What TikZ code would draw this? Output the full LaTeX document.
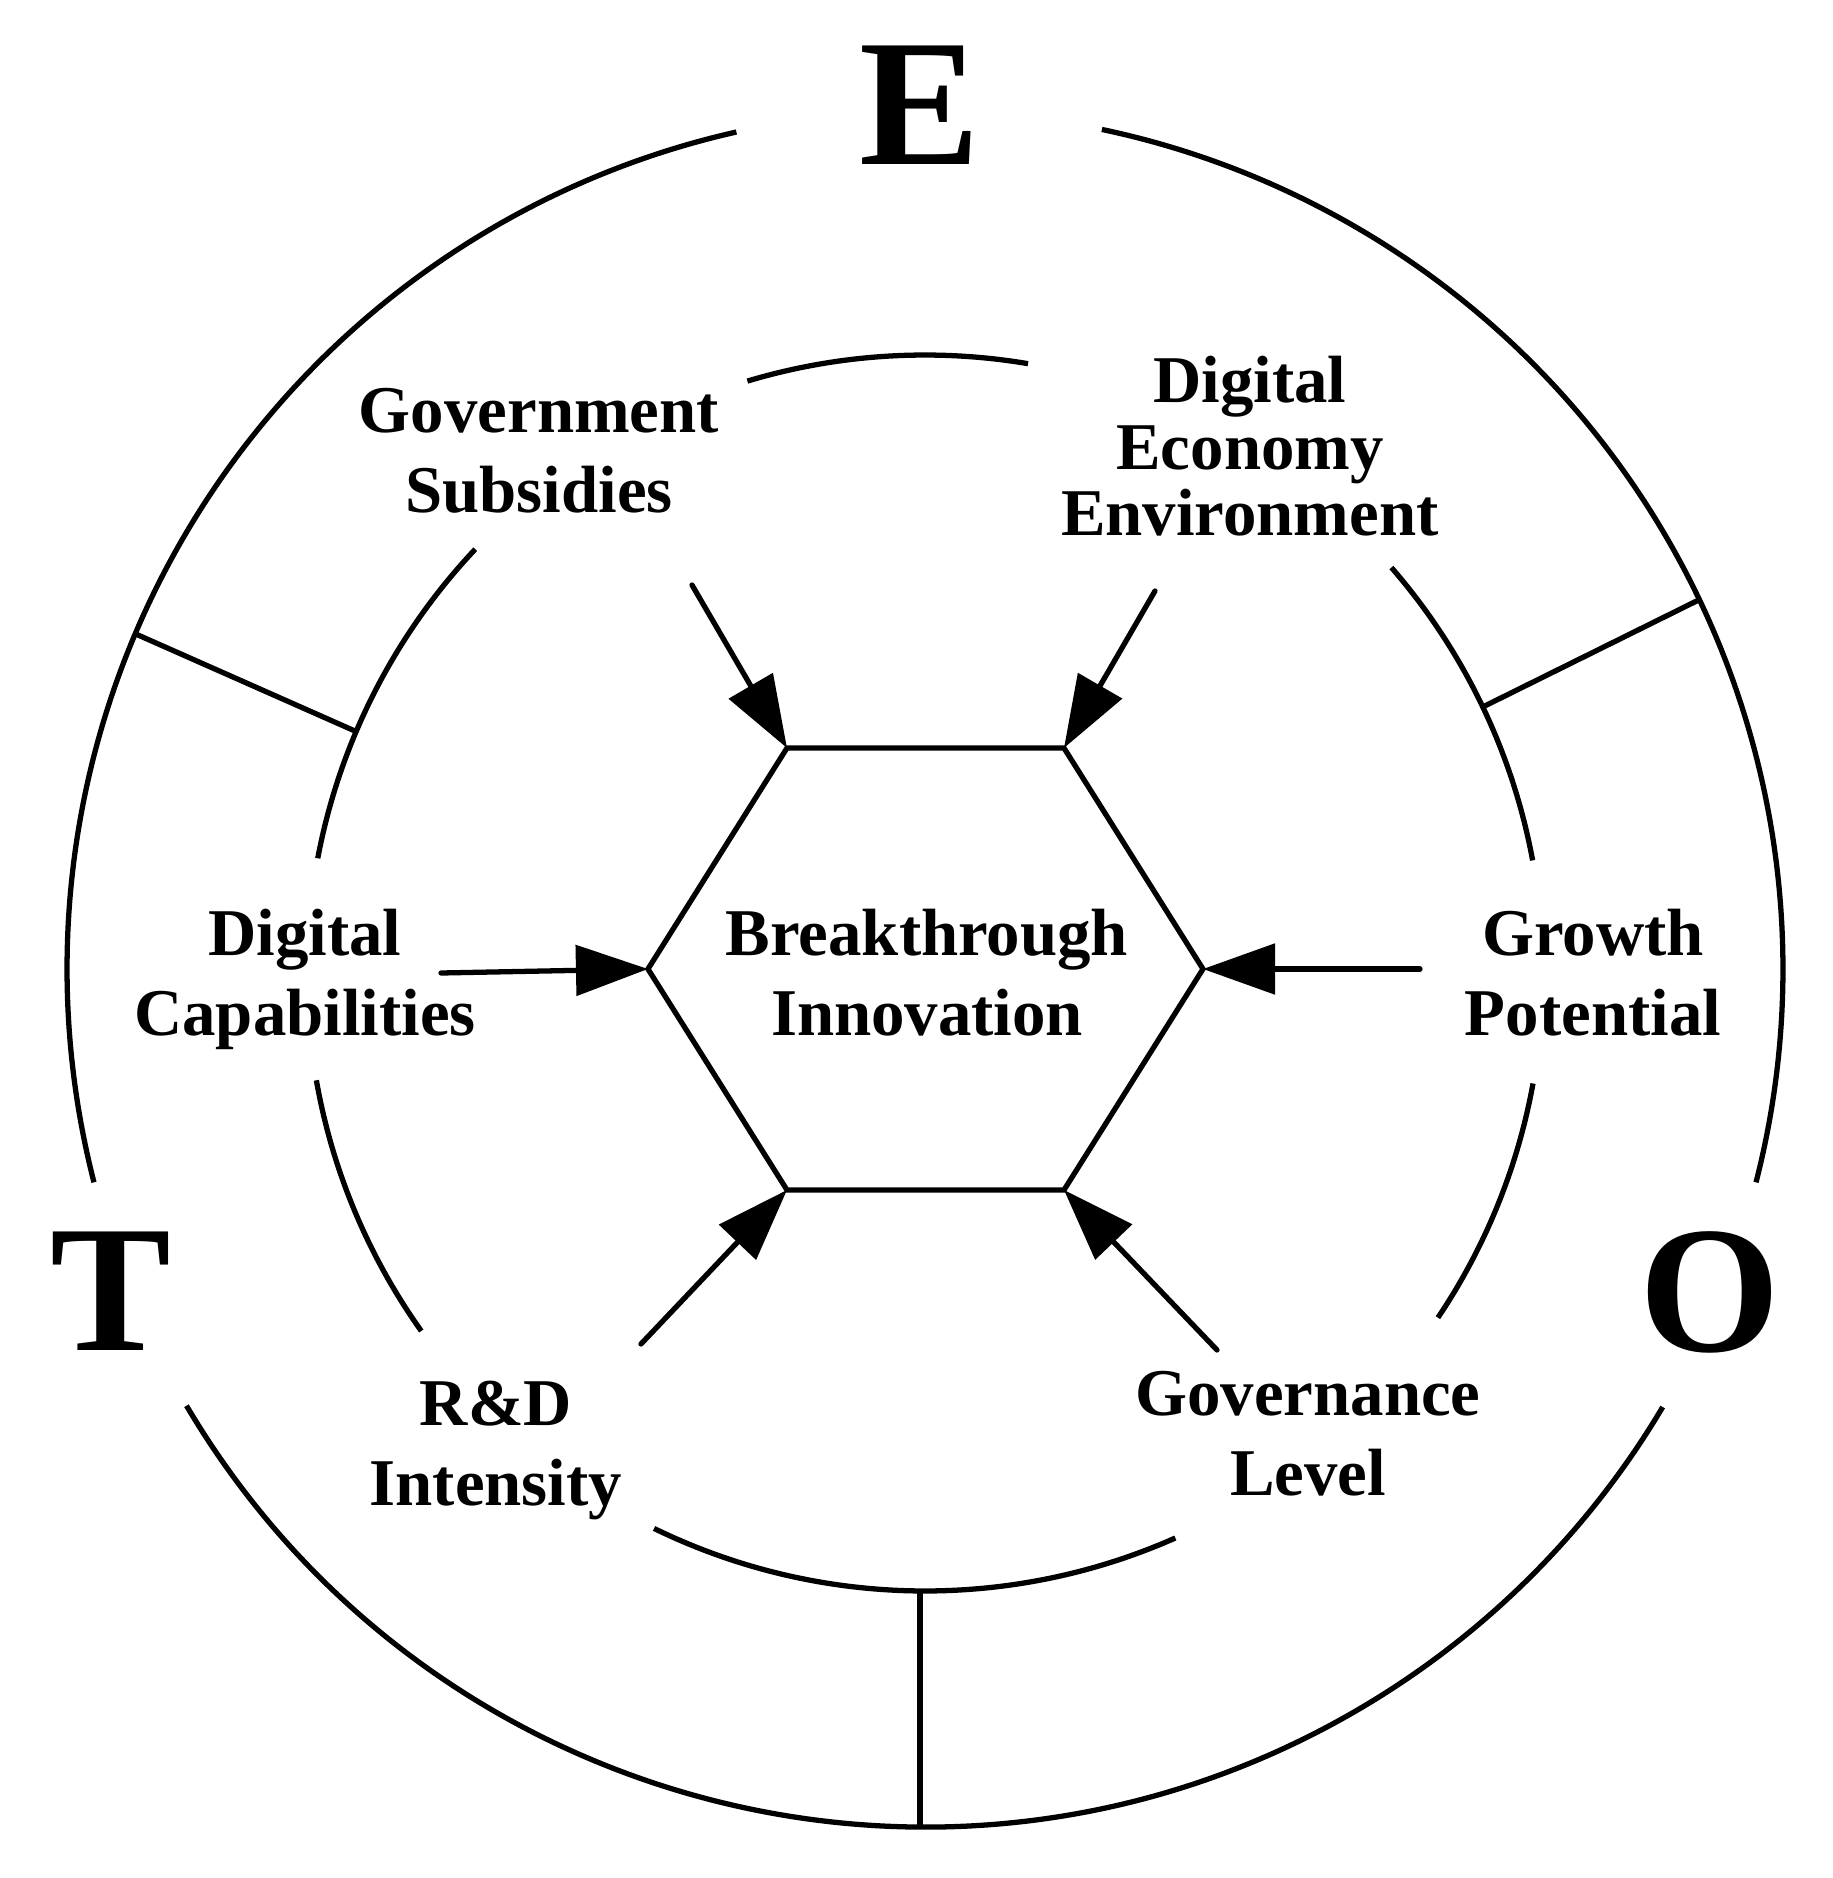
\documentclass[tikz,border=0pt]{standalone}
\usepackage{fontspec}
\setmainfont{Liberation Serif}
\usetikzlibrary{arrows.meta}

\begin{document}
\begin{tikzpicture}[x=0.01cm, y=0.01cm, line width=1.5pt,
		factor/.style={align=center, inner sep=0pt, text depth=0pt, font=\fontsize{19}{22.8}\selectfont\bfseries},
		letter/.style={inner sep=0pt, font=\fontsize{51.5}{52}\selectfont\bfseries},
		pointer/.style={line cap=round, -{Triangle[length=0.72cm,width=0.5cm]}}]

		\useasboundingbox (-925,-909) rectangle (908,969);

		% outer ring
		\draw (-14.4:858) arc[start angle=-14.4, end angle=78.1, radius=858];
		\draw (102.7:858) arc[start angle=102.7, end angle=194.4, radius=858];
		\draw (210.6:858) arc[start angle=210.6, end angle=329.3, radius=858];

		% inner ring
		\begin{scope}[shift={(0,-4)}]
			\draw (80.4:618) arc[start angle=80.4, end angle=106.7, radius=618];
			\draw (136.7:618) arc[start angle=136.7, end angle=169.3, radius=618];
			\draw (190:618) arc[start angle=190, end angle=215.4, radius=618];
			\draw (244:618) arc[start angle=244, end angle=293.9, radius=618];
			\draw (-33.9:618) arc[start angle=-33.9, end angle=-10.3, radius=618];
			\draw (10.5:618) arc[start angle=10.5, end angle=41, radius=618];

			\coordinate (s1) at (157:618);
			\coordinate (s2) at (25.5:618);
			\coordinate (s3) at (-5,-618);
		\end{scope}

		\coordinate (S1) at (157:858);
		\coordinate (S2) at (25.5:858);
		\coordinate (S3) at (-5,-858);

		\draw (s1) -- (S1);
		\draw (s2) -- (S2);
		\draw (s3) -- (S3);

		% hexagon
		\coordinate (h1) at (-138,221);
		\coordinate (h2) at (139,221);
		\coordinate (h3) at (278,0);
		\coordinate (h4) at (139,-221);
		\coordinate (h5) at (-138,-221);
		\coordinate (h6) at (-277,0);

		\draw (h1) -- (h2) -- (h3) -- (h4) -- (h5) -- (h6) -- cycle;

		\node[factor] (bi) at (2,-3) {Breakthrough\\Innovation};

		\node[factor] (gs) at (-386,519) {Government\\Subsidies};
		\node[factor, font=\fontsize{19}{18.9}\selectfont\bfseries] (de) at (325,523) {Digital\\Economy\\Environment};
		\node[factor] (dc) at (-620,-3) {Digital\\Capabilities};
		\node[factor] (gp) at (668,-3) {Growth\\Potential};
		\node[factor] (rd) at (-429,-474) {R\&D\\Intensity};
		\node[factor] (gl) at (383,-464) {Governance\\Level};

		\node[letter] (E) at (-5,864) {E};
		\node[letter] (T) at (-814,-322) {T};
		\node[letter] (O) at (785,-323) {O};

		% arrows into the hexagon
		\coordinate (gs-in) at (-233,384);
		\coordinate (de-in) at (230,378);
		\coordinate (dc-in) at (-484,-4);
		\coordinate (gp-in) at (495,0);
		\coordinate (rd-in) at (-284,-375);
		\coordinate (gl-in) at (292,-381);

		\draw[pointer] (gs-in) -- (h1);
		\draw[pointer] (de-in) -- (h2);
		\draw[pointer] (dc-in) -- (h6);
		\draw[pointer] (gp-in) -- (h3);
		\draw[pointer] (rd-in) -- (h5);
		\draw[pointer] (gl-in) -- (h4);

	\end{tikzpicture}
\end{document}
